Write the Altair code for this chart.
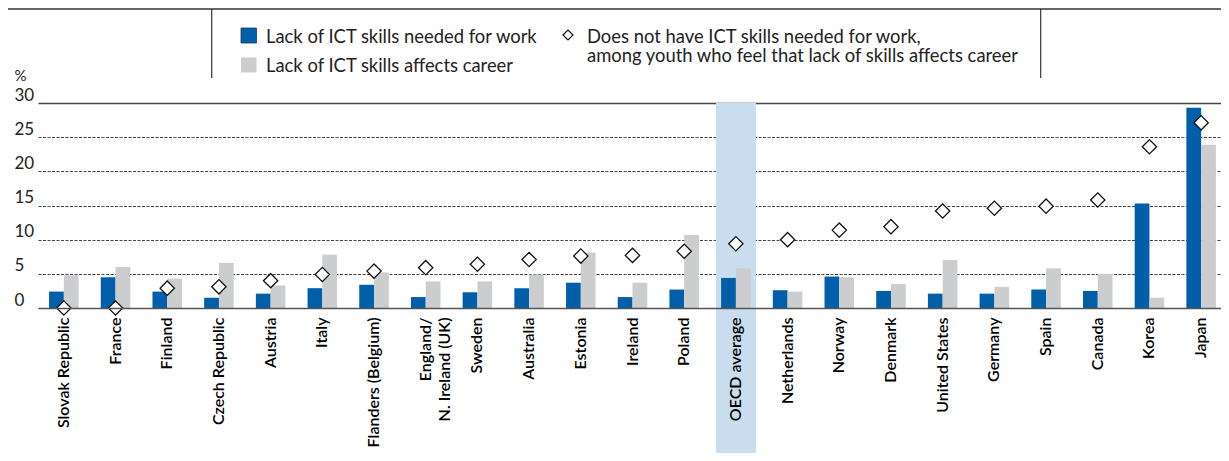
import altair as alt
import pandas as pd

countries = ["Slovak Republic", "France", "Finland", "Czech Republic", "Austria", "Italy",
             "Flanders (Belgium)", "England/|N. Ireland (UK)", "Sweden", "Australia", "Estonia",
             "Ireland", "Poland", "OECD average", "Netherlands", "Norway", "Denmark",
             "United States", "Germany", "Spain", "Canada", "Korea", "Japan"]
needed_for_work = [2.4, 4.5, 2.4, 1.5, 2.1, 2.9, 3.4, 1.6, 2.3, 2.9, 3.7, 1.6, 2.7, 4.4,
                   2.6, 4.6, 2.5, 2.1, 2.1, 2.7, 2.5, 15.3, 29.3]
affects_career = [4.8, 6.0, 4.3, 6.6, 3.3, 7.8, 5.2, 3.9, 3.9, 4.9, 8.1, 3.7, 10.7, 5.8,
                  2.4, 4.5, 3.5, 7.0, 3.1, 5.8, 5.0, 1.5, 23.9]
no_skills_among_affected = [0.0, 0.0, 2.9, 3.1, 4.0, 4.9, 5.4, 5.9, 6.4, 7.1, 7.6, 7.7, 8.3,
                            9.4, 10.0, 11.4, 11.9, 14.2, 14.6, 14.9, 15.8, 23.6, 27.1]
series_names = ["Lack of ICT skills needed for work", "Lack of ICT skills affects career"]
diamond_label = ["Does not have ICT skills needed for work,",
                 "among youth who feel that lack of skills affects career"]
highlight = ["OECD average"]
y_ticks = [0, 5, 10, 15, 20, 25, 30]

FONT = "Lato"
BLUE = "#005FA8"
GREY = "#CCCDCF"
W, H = 1213, 205

bars_df = pd.DataFrame({
    "country": countries * 2,
    "series": [series_names[0]] * len(countries) + [series_names[1]] * len(countries),
    "value": needed_for_work + affects_career,
})
pts_df = pd.DataFrame({"country": countries, "value": no_skills_among_affected})
hl_df = pd.DataFrame({"country": highlight})
one = pd.DataFrame({"k": [0]})

xscale = alt.Scale(domain=countries, range=[30, 1219], paddingInner=0, paddingOuter=0)
xaxis = alt.Axis(title=None, labelAngle=-90, labelAlign="right", labelBaseline="middle",
                 labelPadding=9, labelFont=FONT, labelFontSize=16, labelFontWeight=600,
                 labelColor="#000", labelExpr="split(datum.label, '|')", labelLineHeight=19,
                 labelOverlap=False, labelBound=False, ticks=False, tickSize=0,
                 domainColor="#555", domainWidth=1.5, zindex=1)
yscale = alt.Scale(domain=[0, 30], nice=False, zero=True)
yaxis = alt.Axis(values=y_ticks, grid=True,
                 gridDash=alt.condition("datum.value == 30", alt.value([]), alt.value([3, 1.5])),
                 gridWidth=alt.condition("datum.value == 30", alt.value(1.4), alt.value(1)),
                 gridColor="#444", domain=False, ticks=False, tickSize=0,
                 labelAlign="left", labelPadding=-6, labelBaseline="alphabetic", labelOffset=-3,
                 labelFont=FONT, labelFontSize=17, labelColor="#222", labelFlush=False,
                 title="%", titleAngle=0, titleAlign="left", titleBaseline="alphabetic",
                 titleX=6, titleY=-23, titleFont=FONT, titleFontSize=15,
                 titleFontWeight="normal", titleColor="#222", zindex=0)

band = alt.Chart(hl_df).mark_bar(color="#C9DDEE", width=40).encode(
    x=alt.X("country:N", scale=xscale, axis=xaxis, sort=countries),
    y=alt.value(0), y2=alt.value(362),
)

bars = alt.Chart(bars_df).mark_bar().encode(
    x=alt.X("country:N", scale=xscale, axis=xaxis, sort=countries),
    xOffset=alt.XOffset("series:N", sort=series_names,
                        scale=alt.Scale(paddingOuter=0.75, paddingInner=0)),
    y=alt.Y("value:Q", scale=yscale, axis=yaxis),
    color=alt.Color("series:N", scale=alt.Scale(domain=series_names, range=[BLUE, GREY]),
                    legend=None),
)

pts = alt.Chart(pts_df).mark_point(shape="diamond", filled=True, fill="white", stroke="#111",
                                   strokeWidth=1.3, size=205, opacity=1).encode(
    x=alt.X("country:N", scale=xscale, axis=xaxis, sort=countries),
    y=alt.Y("value:Q", scale=yscale, axis=yaxis),
)

# legend frame
top_line = alt.Chart(one).mark_rule(color="#333", strokeWidth=1.3).encode(
    x=alt.value(-1), x2=alt.value(W), y=alt.value(-94))
vline1 = alt.Chart(one).mark_rule(color="#333", strokeWidth=1.2).encode(
    x=alt.value(203.7), y=alt.value(-94), y2=alt.value(-25))
vline2 = alt.Chart(one).mark_rule(color="#333", strokeWidth=1.2).encode(
    x=alt.value(1032.7), y=alt.value(-94), y2=alt.value(-25))

sq1 = alt.Chart(one).mark_rect(color=BLUE, stroke="#1a3a6a", strokeWidth=0.8).encode(
    x=alt.value(233), x2=alt.value(248.5), y=alt.value(-75), y2=alt.value(-60))
sq2 = alt.Chart(one).mark_rect(color=GREY).encode(
    x=alt.value(233), x2=alt.value(248.5), y=alt.value(-45.5), y2=alt.value(-30.5))
leg_txt = dict(align="left", baseline="alphabetic", font=FONT, fontSize=18.4, color="#222")
t1 = alt.Chart(one).mark_text(text=series_names[0], **leg_txt).encode(
    x=alt.value(258), y=alt.value(-60))
t2 = alt.Chart(one).mark_text(text=series_names[1], **leg_txt).encode(
    x=alt.value(258), y=alt.value(-31.5))
dia = alt.Chart(one).mark_point(shape="diamond", filled=True, fill="white", stroke="#111",
                                strokeWidth=1.2, size=100, opacity=1).encode(
    x=alt.value(560), y=alt.value(-68))
t3 = alt.Chart(one).mark_text(text=diamond_label, lineHeight=19, **leg_txt).encode(
    x=alt.value(579), y=alt.value(-60))

chart = alt.layer(band, bars, pts, top_line, vline1, vline2, sq1, sq2, t1, t2, dia, t3).properties(
    width=W, height=H,
    autosize=alt.AutoSizeParams(type="none"),
    padding={"left": 0, "top": 95, "right": 0, "bottom": 145},
).configure_view(stroke=None)

chart.save("out.html", embed_options={"renderer": "svg", "actions": False})
